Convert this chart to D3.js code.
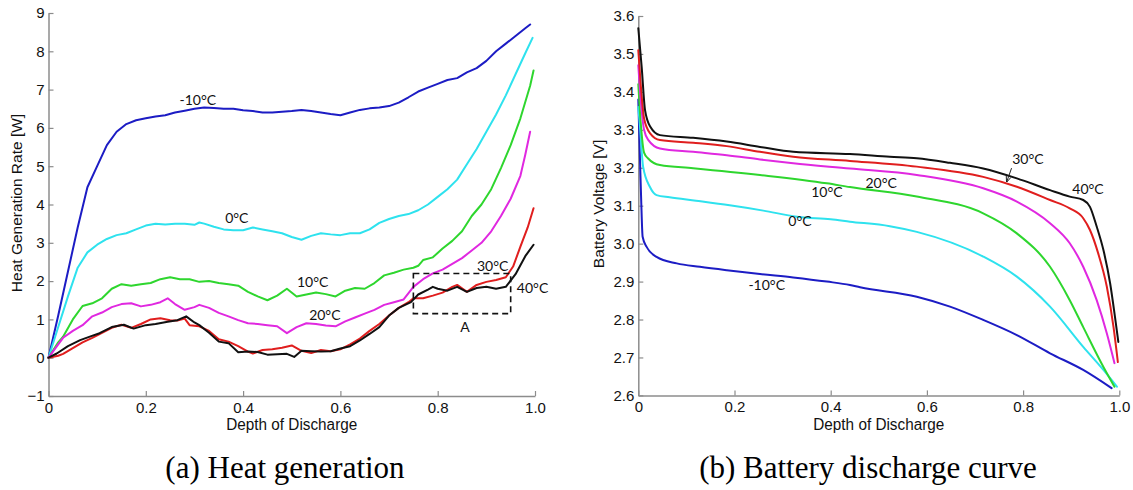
<!DOCTYPE html>
<html>
<head>
<meta charset="utf-8">
<script src="https://cdn.jsdelivr.net/npm/d3@7"></script>
<style>
  html, body { margin: 0; padding: 0; background: #fff; }
  svg { display: block; }
</style>
</head>
<body>
<svg id="fig" width="1133" height="490"></svg>
<script>
// ---- Heat generation rate [W] vs depth of discharge, [DoD, value] pairs ----
const heatM10 = [[0,0],[0.02,1.1],[0.04,2.25],[0.06,3.4],[0.08,4.45],[0.1,5.0],[0.12,5.55],[0.14,5.9],[0.16,6.1],[0.18,6.2],[0.2,6.25],[0.22,6.3],[0.24,6.33],[0.26,6.4],[0.28,6.45],[0.3,6.5],[0.32,6.53],[0.34,6.52],[0.36,6.5],[0.38,6.5],[0.4,6.46],[0.42,6.44],[0.44,6.4],[0.46,6.4],[0.48,6.42],[0.5,6.44],[0.52,6.47],[0.54,6.44],[0.56,6.4],[0.58,6.36],[0.6,6.33],[0.62,6.4],[0.64,6.47],[0.66,6.51],[0.68,6.53],[0.7,6.57],[0.72,6.66],[0.74,6.8],[0.76,6.95],[0.78,7.05],[0.8,7.15],[0.82,7.25],[0.84,7.3],[0.86,7.45],[0.88,7.56],[0.9,7.75],[0.92,8.0],[0.94,8.2],[0.96,8.4],[0.98,8.6],[0.99,8.7]];
const heat0 = [[0,0],[0.02,0.8],[0.04,1.6],[0.06,2.35],[0.08,2.75],[0.1,2.95],[0.12,3.1],[0.14,3.2],[0.16,3.25],[0.18,3.35],[0.2,3.45],[0.22,3.5],[0.24,3.48],[0.26,3.5],[0.28,3.5],[0.3,3.47],[0.31,3.53],[0.32,3.5],[0.34,3.42],[0.36,3.35],[0.38,3.33],[0.4,3.33],[0.42,3.4],[0.44,3.35],[0.46,3.3],[0.48,3.25],[0.5,3.15],[0.52,3.08],[0.54,3.18],[0.56,3.25],[0.58,3.22],[0.6,3.2],[0.62,3.25],[0.64,3.25],[0.66,3.35],[0.68,3.52],[0.7,3.62],[0.72,3.7],[0.74,3.75],[0.76,3.85],[0.78,4.0],[0.8,4.2],[0.82,4.4],[0.84,4.65],[0.86,5.05],[0.88,5.45],[0.9,5.9],[0.92,6.35],[0.94,6.85],[0.96,7.4],[0.98,7.95],[0.995,8.35]];
const heat10 = [[0,0],[0.02,0.4],[0.03,0.55],[0.05,1.0],[0.07,1.35],[0.09,1.42],[0.11,1.55],[0.13,1.8],[0.15,1.92],[0.17,1.88],[0.19,1.92],[0.21,1.95],[0.23,2.05],[0.25,2.1],[0.27,2.05],[0.29,2.05],[0.31,1.98],[0.33,2.0],[0.35,1.95],[0.37,1.92],[0.39,1.88],[0.41,1.72],[0.43,1.6],[0.45,1.5],[0.47,1.62],[0.49,1.8],[0.51,1.6],[0.53,1.65],[0.55,1.7],[0.57,1.66],[0.59,1.6],[0.61,1.75],[0.63,1.82],[0.65,1.8],[0.67,1.95],[0.69,2.15],[0.71,2.22],[0.73,2.3],[0.75,2.35],[0.76,2.4],[0.77,2.55],[0.79,2.62],[0.81,2.85],[0.83,3.05],[0.85,3.3],[0.87,3.7],[0.89,4.0],[0.91,4.4],[0.93,4.95],[0.95,5.55],[0.97,6.25],[0.99,7.1],[0.997,7.5]];
const heat20 = [[0,0],[0.02,0.35],[0.03,0.52],[0.05,0.7],[0.07,0.85],[0.09,1.08],[0.11,1.18],[0.13,1.32],[0.15,1.4],[0.17,1.42],[0.19,1.34],[0.21,1.38],[0.23,1.45],[0.245,1.55],[0.26,1.4],[0.28,1.25],[0.3,1.32],[0.31,1.38],[0.33,1.3],[0.35,1.17],[0.37,1.08],[0.39,0.98],[0.41,0.9],[0.43,0.88],[0.45,0.85],[0.47,0.82],[0.49,0.64],[0.51,0.8],[0.53,0.9],[0.55,0.88],[0.57,0.84],[0.59,0.82],[0.61,0.95],[0.63,1.05],[0.65,1.15],[0.67,1.25],[0.69,1.38],[0.71,1.45],[0.73,1.52],[0.75,1.85],[0.77,2.05],[0.79,2.2],[0.81,2.3],[0.83,2.45],[0.85,2.6],[0.87,2.8],[0.89,3.0],[0.91,3.3],[0.93,3.7],[0.95,4.15],[0.97,4.75],[0.98,5.3],[0.99,5.9]];
const heat30 = [[0,0],[0.02,0.05],[0.03,0.1],[0.05,0.25],[0.07,0.4],[0.09,0.52],[0.11,0.65],[0.13,0.78],[0.15,0.86],[0.17,0.78],[0.19,0.88],[0.21,1.0],[0.23,1.03],[0.25,0.98],[0.265,0.97],[0.28,1.02],[0.29,0.85],[0.31,0.82],[0.33,0.7],[0.35,0.48],[0.37,0.42],[0.39,0.3],[0.41,0.16],[0.42,0.11],[0.44,0.2],[0.46,0.22],[0.48,0.26],[0.5,0.32],[0.52,0.18],[0.54,0.12],[0.56,0.2],[0.58,0.17],[0.6,0.22],[0.62,0.35],[0.64,0.5],[0.66,0.7],[0.68,0.88],[0.7,1.1],[0.72,1.3],[0.74,1.45],[0.75,1.55],[0.77,1.55],[0.79,1.62],[0.81,1.7],[0.83,1.85],[0.84,1.9],[0.86,1.72],[0.88,1.9],[0.9,1.98],[0.92,2.03],[0.94,2.1],[0.955,2.38],[0.97,2.9],[0.985,3.4],[0.997,3.9]];
const heat40 = [[0,0],[0.017,0.11],[0.04,0.3],[0.065,0.46],[0.085,0.55],[0.105,0.64],[0.13,0.8],[0.155,0.86],[0.175,0.76],[0.2,0.85],[0.22,0.88],[0.245,0.94],[0.265,0.98],[0.283,1.08],[0.3,0.92],[0.31,0.85],[0.33,0.65],[0.35,0.42],[0.37,0.38],[0.39,0.14],[0.41,0.16],[0.43,0.15],[0.45,0.08],[0.47,0.09],[0.49,0.1],[0.505,0.02],[0.52,0.18],[0.54,0.17],[0.56,0.16],[0.58,0.17],[0.6,0.24],[0.62,0.3],[0.64,0.45],[0.66,0.62],[0.68,0.8],[0.7,1.1],[0.72,1.3],[0.745,1.45],[0.76,1.65],[0.78,1.78],[0.79,1.85],[0.8,1.8],[0.82,1.75],[0.84,1.85],[0.86,1.72],[0.88,1.82],[0.9,1.85],[0.92,1.8],[0.94,1.85],[0.96,2.18],[0.98,2.65],[0.997,2.95]];

// ---- Battery voltage [V] vs depth of discharge ----
const voltM10 = [[0,3.38],[0.004,3.2],[0.006,3.115],[0.009,3.018],[0.017,2.992],[0.038,2.965],[0.08,2.948],[0.128,2.939],[0.184,2.93],[0.253,2.92],[0.322,2.911],[0.392,2.9],[0.44,2.891],[0.461,2.885],[0.579,2.86],[0.648,2.834],[0.717,2.799],[0.787,2.759],[0.856,2.711],[0.925,2.667],[0.984,2.619]];
const volt0 = [[0,3.36],[0.003,3.317],[0.01,3.203],[0.024,3.15],[0.038,3.128],[0.065,3.122],[0.12,3.113],[0.19,3.101],[0.26,3.087],[0.33,3.071],[0.4,3.064],[0.44,3.058],[0.523,3.046],[0.579,3.031],[0.717,2.966],[0.787,2.913],[0.856,2.834],[0.925,2.728],[0.967,2.667],[0.995,2.623]];
const volt10 = [[0,3.42],[0.005,3.32],[0.012,3.24],[0.02,3.225],[0.045,3.207],[0.114,3.199],[0.253,3.181],[0.392,3.159],[0.44,3.149],[0.579,3.124],[0.717,3.08],[0.787,3.027],[0.856,2.939],[0.897,2.851],[0.925,2.78],[0.967,2.675],[0.99,2.623]];
const volt20 = [[0,3.47],[0.005,3.38],[0.012,3.3],[0.021,3.273],[0.045,3.251],[0.114,3.242],[0.184,3.233],[0.253,3.222],[0.322,3.212],[0.44,3.198],[0.579,3.181],[0.717,3.146],[0.787,3.111],[0.856,3.054],[0.897,3.001],[0.925,2.939],[0.953,2.851],[0.974,2.764],[0.99,2.685]];
const volt30 = [[0,3.51],[0.005,3.42],[0.012,3.33],[0.025,3.29],[0.045,3.273],[0.114,3.266],[0.184,3.257],[0.253,3.242],[0.322,3.229],[0.44,3.218],[0.579,3.203],[0.717,3.176],[0.787,3.15],[0.856,3.115],[0.897,3.093],[0.925,3.067],[0.939,3.036],[0.956,2.975],[0.974,2.887],[0.988,2.78],[0.997,2.688]];
const volt40 = [[0,3.568],[0.007,3.466],[0.014,3.352],[0.025,3.308],[0.045,3.286],[0.114,3.279],[0.184,3.269],[0.253,3.255],[0.322,3.242],[0.44,3.236],[0.523,3.229],[0.579,3.225],[0.648,3.213],[0.717,3.198],[0.787,3.172],[0.856,3.141],[0.897,3.124],[0.925,3.115],[0.939,3.097],[0.953,3.045],[0.967,2.983],[0.981,2.895],[0.991,2.807],[0.998,2.741]];

// ---- Axis ticks ----
const dodTicks = [0, 0.2, 0.4, 0.6, 0.8, 1.0];
const dodTickLabels = ["0", "0.2", "0.4", "0.6", "0.8", "1.0"];
const heatTicks = [-1, 0, 1, 2, 3, 4, 5, 6, 7, 8, 9];
const voltTicks = [2.6, 2.7, 2.8, 2.9, 3.0, 3.1, 3.2, 3.3, 3.4, 3.5, 3.6];

// ---- Series colours and temperature labels ----
const temps = ["-10°C", "0°C", "10°C", "20°C", "30°C", "40°C"];
const colors = ["#1c1cc4", "#2ee2ee", "#2ed62e", "#e028e0", "#e01e1e", "#111111"];

// label anchor points in data units [DoD, value]
const heatLabelPos = [[0.307, 6.73], [0.387, 3.66], [0.543, 1.98], [0.568, 1.12], [0.913, 2.4], [0.995, 1.83]];
const voltLabelPos = [[0.267, 2.891], [0.336, 3.06], [0.392, 3.135], [0.505, 3.16], [0.81, 3.223], [0.935, 3.144]];
// region "A" on the heat plot: DoD range and value range
const boxA = { x0: 0.75, x1: 0.95, y0: 1.15, y1: 2.2, labelAt: [0.856, 0.81] };
// leader arrow for the 30°C voltage label
const arrow30 = [[0.776, 3.199], [0.766, 3.163]];

const svg = d3.select("#fig");
const tickFont = "'Liberation Sans', Arial, sans-serif";
const labelFont = "Lato, 'Open Sans', sans-serif";
const axisGrey = "#8c8c8c";

svg.append("defs").append("marker")
  .attr("id", "arrowhead").attr("viewBox", "0 0 10 10")
  .attr("refX", 9).attr("refY", 5).attr("markerWidth", 6).attr("markerHeight", 6)
  .attr("orient", "auto")
  .append("path").attr("d", "M0,1 L10,5 L0,9").attr("fill", "none").attr("stroke", "#222").attr("stroke-width", 1.5);

function drawPanel(opts) {
  const g = svg.append("g");
  const x = d3.scaleLinear().domain([0, 1]).range(opts.xRange);
  const y = d3.scaleLinear().domain(opts.yDomain).range(opts.yRange);

  const xAxis = d3.axisBottom(x).tickValues(dodTicks)
    .tickFormat((d, i) => dodTickLabels[i]).tickSizeInner(-5).tickSizeOuter(0).tickPadding(6);
  const yAxis = d3.axisLeft(y).tickValues(opts.yTicks)
    .tickFormat(opts.yFormat).tickSizeInner(-5).tickSizeOuter(0).tickPadding(4);

  const gx = g.append("g").attr("transform", `translate(0,${opts.yRange[0]})`).call(xAxis);
  const gy = g.append("g").attr("transform", `translate(${opts.xRange[0]},0)`).call(yAxis);
  [gx, gy].forEach(a => {
    a.select(".domain").attr("stroke", axisGrey).attr("stroke-width", 1.5);
    a.selectAll(".tick line").attr("stroke", axisGrey).attr("stroke-width", 1.2);
    a.selectAll(".tick text").attr("fill", "#111").attr("font-family", tickFont).attr("font-size", 15);
  });

  const line = d3.line().x(d => x(d[0])).y(d => y(d[1])).curve(opts.curve);
  opts.series.forEach((s, i) => {
    g.append("path").datum(s).attr("d", line)
      .attr("fill", "none").attr("stroke", colors[i]).attr("stroke-width", 2)
      .attr("stroke-linejoin", "round").attr("stroke-linecap", "round");
  });

  temps.forEach((t, i) => {
    g.append("text").attr("x", x(opts.labels[i][0])).attr("y", y(opts.labels[i][1]))
      .attr("dy", "0.36em").attr("text-anchor", "middle")
      .attr("font-family", labelFont).attr("font-size", 14).attr("fill", "#111").text(t);
  });

  // axis titles
  const xMid = (opts.xRange[0] + opts.xRange[1]) / 2;
  g.append("text").attr("x", xMid).attr("y", 430).attr("text-anchor", "middle")
    .attr("font-family", tickFont).attr("font-size", 16).attr("fill", "#111")
    .attr("textLength", 131).attr("lengthAdjust", "spacingAndGlyphs").text("Depth of Discharge");
  g.append("text").attr("transform", `translate(${opts.yTitleX},${opts.yTitleY}) rotate(-90)`)
    .attr("text-anchor", "middle").attr("font-family", tickFont).attr("font-size", 15.5)
    .attr("fill", "#111").text(opts.yTitle);

  // caption
  g.append("text").attr("x", opts.captionX).attr("y", 478).attr("text-anchor", "middle")
    .attr("font-family", "'Liberation Serif', 'Times New Roman', serif").attr("font-size", 31)
    .attr("fill", "#000").text(opts.caption);

  return { g, x, y };
}

const left = drawPanel({
  xRange: [48.5, 535], yDomain: [-1, 9], yRange: [396, 13], yTicks: heatTicks,
  yFormat: d3.format("d"), curve: d3.curveLinear,
  series: [heatM10, heat0, heat10, heat20, heat30, heat40], labels: heatLabelPos,
  yTitle: "Heat Generation Rate [W]", yTitleX: 22, yTitleY: 203,
  caption: "(a) Heat generation", captionX: 285
});

// dashed box marking region A
left.g.append("rect")
  .attr("x", left.x(boxA.x0)).attr("y", left.y(boxA.y1))
  .attr("width", left.x(boxA.x1) - left.x(boxA.x0)).attr("height", left.y(boxA.y0) - left.y(boxA.y1))
  .attr("fill", "none").attr("stroke", "#111").attr("stroke-width", 1.6).attr("stroke-dasharray", "6,4");
left.g.append("text").attr("x", left.x(boxA.labelAt[0])).attr("y", left.y(boxA.labelAt[1]))
  .attr("dy", "0.36em").attr("text-anchor", "middle")
  .attr("font-family", labelFont).attr("font-size", 14).attr("fill", "#111").text("A");

const right = drawPanel({
  xRange: [638.3, 1119.3], yDomain: [2.6, 3.6], yRange: [395.4, 16], yTicks: voltTicks,
  yFormat: d3.format(".1f"), curve: d3.curveMonotoneX,
  series: [voltM10, volt0, volt10, volt20, volt30, volt40], labels: voltLabelPos,
  yTitle: "Battery Voltage [V]", yTitleX: 604, yTitleY: 204,
  caption: "(b) Battery discharge curve", captionX: 868
});

right.g.append("line")
  .attr("x1", right.x(arrow30[0][0])).attr("y1", right.y(arrow30[0][1]))
  .attr("x2", right.x(arrow30[1][0])).attr("y2", right.y(arrow30[1][1]))
  .attr("stroke", "#222").attr("stroke-width", 1).attr("marker-end", "url(#arrowhead)");
</script>
</body>
</html>
